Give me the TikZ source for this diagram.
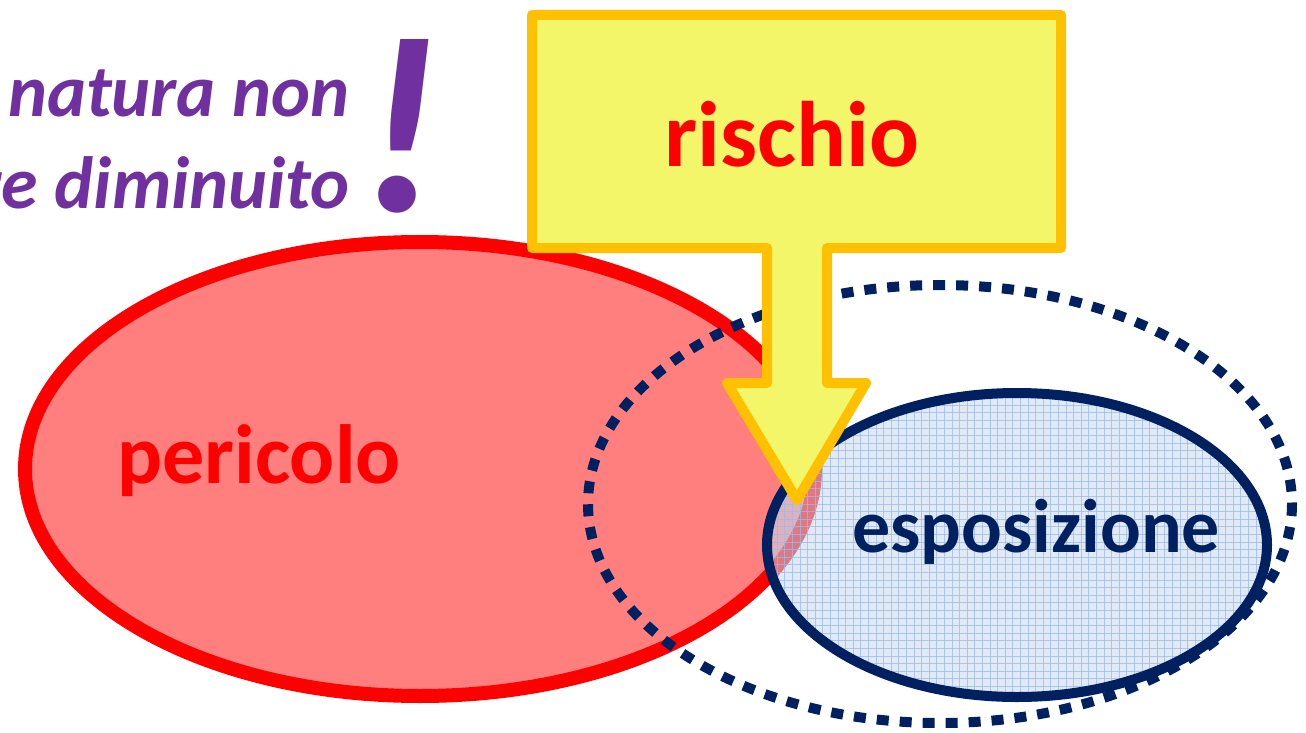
\documentclass[tikz,border=0pt]{standalone}
\usepackage{fontspec}
\setmainfont{Carlito}
\definecolor{purp}{HTML}{7030A0}
\definecolor{navy}{HTML}{002060}
\definecolor{redfill}{HTML}{FF7F7F}
\definecolor{bluefill}{HTML}{C6D9F1}
\definecolor{gridblue}{HTML}{9DBBE3}
\definecolor{yelfill}{HTML}{F4F66A}
\definecolor{orangeline}{HTML}{FFC000}
\tikzset{
  purptext/.style={text=purp, font=\fontsize{74}{74}\selectfont\bfseries\itshape, inner sep=0pt, anchor=base east},
  bigtext/.style={inner sep=0pt, anchor=base, font=\fontsize{#1}{#1}\selectfont\bfseries},
  gridline/.style={gridblue, line width=0.7pt, opacity=0.75},
}
\begin{document}
\begin{tikzpicture}[x=1pt,y=-1pt]
\useasboundingbox (0,0) rectangle (1306,733);
\clip (0,0) rectangle (1306,733);
% red ellipse (pericolo)
\draw[line width=14pt, draw=red, fill=redfill] (420,469) ellipse [x radius=395, y radius=227];
% dotted ellipse
\draw[line width=10pt, draw=navy, dash pattern=on 12pt off 11pt] (940,504) ellipse [x radius=352, y radius=219];
% blue ellipse (esposizione)
\fill[bluefill, fill opacity=0.55] (1017,545) ellipse [x radius=250, y radius=152];
\begin{scope}
  \clip (1017,545) ellipse [x radius=250, y radius=152];
  \foreach \gx in {0,...,68} {\draw[gridline] (762+\gx*7.6,385) -- (762+\gx*7.6,710);}
  \foreach \gy in {0,...,42} {\draw[gridline] (760,390+\gy*7.6) -- (1280,390+\gy*7.6);}
\end{scope}
\draw[line width=10pt, draw=navy] (1017,545) ellipse [x radius=250, y radius=152];
% texts
\node[bigtext=84, text=red] (pericolo) at (259,483) {pericolo};
\node[bigtext=76, text=navy] (esposizione) at (1036,552) {esposizione};
\node[purptext] (line1) at (350,117) {natura non};
\node[purptext] (line2) at (350,208) {re diminuito};
\node[inner sep=0pt, anchor=base, text=purp, font=\fontsize{252}{252}\selectfont\bfseries\itshape] (excl) at (401,211) {!};
% arrow callout
\draw[line width=10pt, draw=orangeline, fill=yelfill, line join=round]
  (532,15) -- (1061,15) -- (1061,248) -- (827,248) -- (827,383) -- (866,383)
  -- (797,500) -- (727,383) -- (767,383) -- (767,248) -- (532,248) -- cycle;
\node[bigtext=93, text=red] (rischio) at (792,166) {rischio};
\end{tikzpicture}
\end{document}
